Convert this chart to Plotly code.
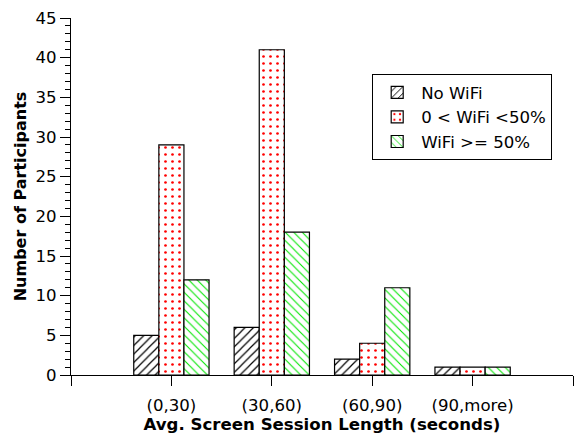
import plotly.graph_objects as go

categories = ["(0,30)", "(30,60)", "(60,90)", "(90,more)"]
no_wifi = [5, 6, 2, 1]
low_wifi = [29, 41, 4, 1]
high_wifi = [12, 18, 11, 1]
series_names = ["No WiFi", "0 < WiFi <50%", "WiFi >= 50%"]

xpos = list(range(1, len(categories) + 1))

FONT = "DejaVu Sans"
FS = 16.6

def bar_marker(shape, fg, size, solidity):
    return dict(color="white", line=dict(color="black", width=1.2),
                pattern=dict(shape=shape, fgcolor=fg, bgcolor="white",
                             size=size, solidity=solidity,
                             fillmode="replace", fgopacity=1))

fig = go.Figure()
fig.add_trace(go.Bar(x=xpos, y=no_wifi, name=series_names[0],
                     marker=bar_marker("/", "black", 6, 0.2)))
fig.add_trace(go.Bar(x=xpos, y=low_wifi, name=series_names[1],
                     marker=bar_marker(".", "#ff0000", 7, 0.12)))
fig.add_trace(go.Bar(x=xpos, y=high_wifi, name=series_names[2],
                     marker=bar_marker("\\", "#00e600", 6, 0.18)))

fig.update_layout(
    width=574, height=436,
    margin=dict(l=71, r=1, t=18, b=61),
    paper_bgcolor="white", plot_bgcolor="white",
    barmode="group", bargap=0.25, bargroupgap=0,
    font=dict(family=FONT, size=FS, color="black"),
    showlegend=True,
    legend=dict(
        x=0.6, y=0.843, xanchor="left", yanchor="top",
        bordercolor="black", borderwidth=1, bgcolor="white",
        font=dict(family=FONT, size=FS, color="black"),
        tracegroupgap=0, itemwidth=38,
    ),
    xaxis=dict(
        range=[0, len(categories) + 1],
        tickmode="array",
        tickvals=[0] + xpos + [len(categories) + 1],
        ticktext=[""] + categories + [""],
        showgrid=False, zeroline=False,
        showline=True, linecolor="black", linewidth=1.3,
        ticks="outside", ticklen=10, tickwidth=1.3, tickcolor="black",
        tickfont=dict(family=FONT, size=FS), ticklabelstandoff=5,
        title=dict(text="<b>Avg. Screen Session Length (seconds)</b>",
                   font=dict(family=FONT, size=FS), standoff=3),
    ),
    yaxis=dict(
        range=[0, 45],
        tick0=0, dtick=5,
        showgrid=False, zeroline=False,
        showline=True, linecolor="black", linewidth=1.3,
        ticks="outside", ticklen=10, tickwidth=1.3, tickcolor="black",
        tickfont=dict(family=FONT, size=FS),
        minor=dict(dtick=1, ticks="outside", ticklen=5, tickwidth=1, tickcolor="black"),
        title=dict(text="<b>Number of Participants</b>",
                   font=dict(family=FONT, size=16), standoff=4),
    ),
)

fig.write_html("out.html")
